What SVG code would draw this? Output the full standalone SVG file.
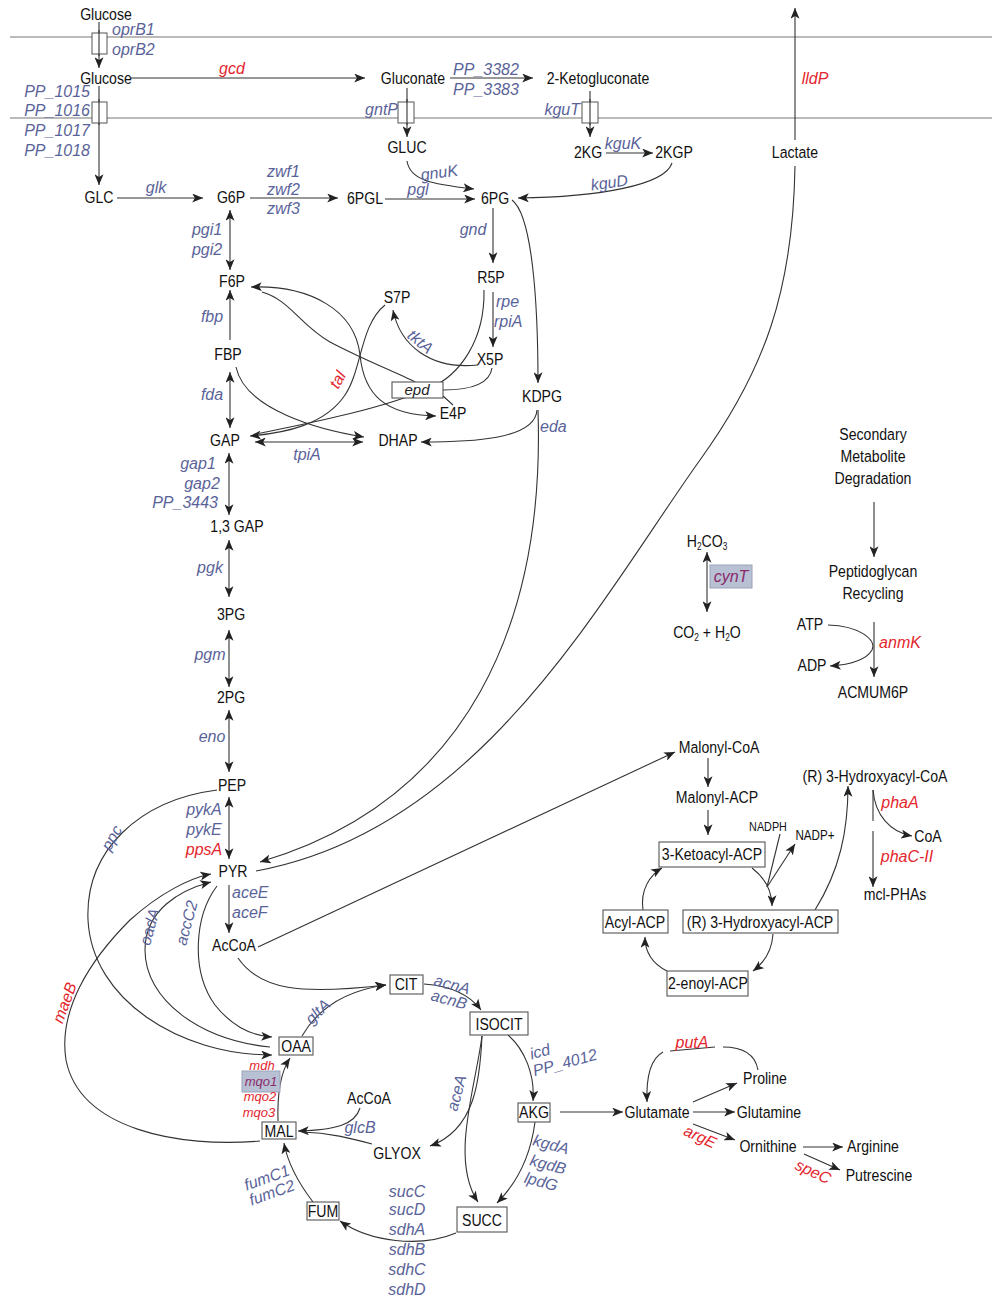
<svg xmlns="http://www.w3.org/2000/svg" width="992" height="1300" viewBox="0 0 992 1300">
<defs>
<marker id="ah" viewBox="0 0 12 10" refX="12" refY="5" markerWidth="11" markerHeight="9" orient="auto-start-reverse" markerUnits="userSpaceOnUse"><path d="M0,0 L12,5 L0,10 L3,5 z" fill="#222"/></marker>
<style>
.m{font-family:"Liberation Sans",Arial,sans-serif;font-size:17px;fill:#111;text-anchor:middle;transform-box:fill-box;transform-origin:center;transform:scaleX(0.83)}
.s{font-size:13px}
.g{font-family:"Liberation Sans",Arial,sans-serif;font-style:italic;font-size:16px;fill:#5a6399;text-anchor:middle}
.sm{font-size:13px}
.r{fill:#e3262e}
.e{text-anchor:end}
.st{text-anchor:start}
.c{fill:none;stroke:#333;stroke-width:1.1}
.a{marker-end:url(#ah)}
.b{marker-start:url(#ah);marker-end:url(#ah)}
.mem{stroke:#777;stroke-width:1.2}
.box{fill:#fff;stroke:#555;stroke-width:1.1}
.tb{fill:#fff;stroke:#555;stroke-width:1}
</style>
</defs>
<rect width="992" height="1300" fill="#fff"/>
<g id="membranes">
<line class="mem" x1="10" y1="37" x2="992" y2="37"/>
<line class="mem" x1="10" y1="118" x2="992" y2="118"/>
</g>
<g id="connectors">
<path class="c a" d="M99,22 L99,68"/>
<path class="c a" d="M99,86 L99,185"/>
<path class="c a" d="M131,78 L365,78"/>
<path class="c a" d="M450,78 L533,78"/>
<path class="c a" d="M407,88 L407,137"/>
<path class="c a" d="M590,91 L590,137"/>
<path class="c a" d="M606,153 L653,153"/>
<path class="c a" d="M672,163 C665,185 600,197 518,198"/>
<path class="c a" d="M407,161 C410,180 430,184 474,189"/>
<path class="c a" d="M795,140 L795,8"/>
<path class="c a" d="M117,198 L203,198"/>
<path class="c a" d="M250,198 L338,198"/>
<path class="c a" d="M385,199 L475,199"/>
<path class="c a" d="M493,208 L493,263"/>
<path class="c a" d="M493,292 L493,347"/>
<path class="c a" d="M512,200 C532,215 538,300 538,383"/>
<path class="c a" d="M537,410 C535,440 470,442 421,442"/>
<path class="c a" d="M538,410 C545,620 470,800 260,862"/>
<path class="c" d="M795,166 C793,290 765,370 700,460 C600,600 480,830 256,871"/>
<path class="c b" d="M230,210 L230,270"/>
<path class="c a" d="M230,340 L230,290"/>
<path class="c b" d="M230,372 L230,428"/>
<path class="c b" d="M255,442 L363,442"/>
<path class="c b" d="M229,453 L229,515"/>
<path class="c b" d="M229,540 L229,597"/>
<path class="c b" d="M229,630 L229,687"/>
<path class="c b" d="M229,710 L229,772"/>
<path class="c b" d="M229,797 L229,859"/>
<path class="c a" d="M229,885 L229,933"/>
<path class="c b" d="M251,287 C310,285 355,310 360,355 C364,395 385,415 436,416"/>
<path class="c" d="M262,292 C290,300 300,325 330,342 C360,358 395,372 415,382"/>
<path class="c a" d="M385,305 C360,325 362,370 345,395 C325,425 285,433 250,436"/>
<path class="c" d="M484,290 C485,340 460,375 430,388 C380,410 300,425 256,434"/>
<path class="c a" d="M478,365 C430,370 400,345 393,310"/>
<path class="c" d="M443,390 C475,390 490,382 492,368"/>
<path class="c" d="M443,396 L453,405"/>
<path class="c a" d="M236,367 C245,410 320,430 364,437"/>
<path class="c a" d="M217,790 C140,800 85,850 88,920 C92,1000 180,1055 272,1055"/>
<path class="c a" d="M270,1047 C200,1040 145,1000 145,950 C145,910 180,890 211,882"/>
<path class="c a" d="M217,886 C195,915 190,970 215,1005 C235,1030 255,1036 272,1037"/>
<path class="c a" d="M260,1141 C180,1148 80,1130 66,1060 C58,1010 90,960 130,920 C160,893 190,878 211,874"/>
<path class="c a" d="M258,947 L675,752"/>
<path class="c a" d="M238,958 C260,990 300,995 386,985"/>
<path class="c a" d="M302,1036 C320,1005 350,990 386,985"/>
<path class="c a" d="M424,984 C450,986 470,995 481,1010"/>
<path class="c a" d="M508,1035 C525,1050 535,1075 533,1101"/>
<path class="c a" d="M482,1036 C480,1080 475,1130 430,1146"/>
<path class="c a" d="M482,1036 C475,1090 450,1160 478,1202"/>
<path class="c a" d="M535,1122 C530,1160 515,1185 497,1203"/>
<path class="c a" d="M456,1233 C420,1248 370,1242 340,1221"/>
<path class="c a" d="M313,1202 C300,1185 288,1165 284,1143"/>
<path class="c a" d="M278,1121 C277,1090 282,1070 290,1058"/>
<path class="c a" d="M360,1108 C355,1125 335,1130 298,1131"/>
<path class="c" d="M372,1144 C350,1138 330,1133 302,1132"/>
<path class="c a" d="M560,1112 L623,1112"/>
<path class="c a" d="M693,1102 L737,1083"/>
<path class="c a" d="M693,1112 L735,1112"/>
<path class="c a" d="M693,1124 L735,1140"/>
<path class="c a" d="M803,1147 L843,1147"/>
<path class="c a" d="M804,1154 L840,1170"/>
<path class="c" d="M758,1070 C755,1053 742,1047 723,1047"/>
<path class="c" d="M670,1051 L715,1047"/>
<path class="c a" d="M663,1052 C652,1058 646,1075 647,1102"/>
<path class="c b" d="M707,552 L707,612"/>
<path class="c a" d="M874,502 L874,557"/>
<path class="c a" d="M874,622 L874,677"/>
<path class="c a" d="M828,625 C860,626 877,640 872,650 C865,662 845,665 830,666"/>
<path class="c a" d="M708,758 L708,787"/>
<path class="c a" d="M708,810 L708,835"/>
<path class="c a" d="M752,868 C765,878 772,890 772,906"/>
<path class="c" d="M780,834 L767,887"/>
<path class="c a" d="M767,887 L795,844"/>
<path class="c a" d="M815,910 C840,870 848,830 848,786"/>
<path class="c a" d="M773,934 C772,950 765,962 753,971"/>
<path class="c a" d="M667,971 C655,965 645,955 645,937"/>
<path class="c a" d="M643,910 C640,890 650,875 662,868"/>
<path class="c a" d="M873,790 C875,815 890,832 912,836"/>
<path class="c" d="M873,790 L873,821"/>
<path class="c a" d="M873,831 L873,887"/>
</g>
<g id="transporters">
<rect class="tb" x="92" y="33" width="15" height="21"/>
<rect class="tb" x="92" y="102" width="15" height="21"/>
<rect class="tb" x="398" y="102" width="16" height="21"/>
<rect class="tb" x="582" y="102" width="16" height="21"/>
<line class="c" x1="99" y1="30" x2="99" y2="56"/>
<line class="c" x1="99" y1="99" x2="99" y2="125"/>
<line class="c" x1="407" y1="99" x2="407" y2="125"/>
<line class="c" x1="590" y1="99" x2="590" y2="125"/>
</g>
<g id="Glucose_out"><text class="m" x="106" y="20">Glucose</text></g>
<g id="Glucose_peri"><text class="m" x="106" y="84">Glucose</text></g>
<g id="Gluconate"><text class="m" x="413" y="84">Gluconate</text></g>
<g id="Ketogluconate"><text class="m" x="598" y="84">2-Ketogluconate</text></g>
<g id="GLUC"><text class="m" x="407" y="153">GLUC</text></g>
<g id="KG2"><text class="m" x="588" y="158">2KG</text></g>
<g id="KGP2"><text class="m" x="674" y="158">2KGP</text></g>
<g id="Lactate"><text class="m" x="795" y="158">Lactate</text></g>
<g id="GLC"><text class="m" x="99" y="203">GLC</text></g>
<g id="G6P"><text class="m" x="231" y="203">G6P</text></g>
<g id="PGL6"><text class="m" x="365" y="204">6PGL</text></g>
<g id="PG6"><text class="m" x="495" y="204">6PG</text></g>
<g id="R5P"><text class="m" x="491" y="283">R5P</text></g>
<g id="S7P"><text class="m" x="397" y="303">S7P</text></g>
<g id="X5P"><text class="m" x="490" y="365">X5P</text></g>
<g id="KDPG"><text class="m" x="542" y="402">KDPG</text></g>
<g id="E4P"><text class="m" x="453" y="419">E4P</text></g>
<g id="epd"><rect class="box" x="392" y="382" width="51" height="16"/><text class="g" x="417" y="395" style="fill:#222;font-size:15px">epd</text></g>
<g id="F6P"><text class="m" x="232" y="287">F6P</text></g>
<g id="FBP"><text class="m" x="228" y="360">FBP</text></g>
<g id="GAP"><text class="m" x="225" y="446">GAP</text></g>
<g id="DHAP"><text class="m" x="398" y="446">DHAP</text></g>
<g id="GAP13"><text class="m" x="237" y="532">1,3 GAP</text></g>
<g id="PG3"><text class="m" x="231" y="620">3PG</text></g>
<g id="PG2"><text class="m" x="231" y="703">2PG</text></g>
<g id="PEP"><text class="m" x="232" y="791">PEP</text></g>
<g id="PYR"><text class="m" x="233" y="877">PYR</text></g>
<g id="AcCoA"><text class="m" x="234" y="951">AcCoA</text></g>
<g id="OAA"><rect class="box" x="279" y="1037" width="34" height="18"/><text class="m" x="296" y="1052">OAA</text></g>
<g id="CIT"><rect class="box" x="390" y="975" width="33" height="19"/><text class="m" x="406" y="990">CIT</text></g>
<g id="ISOCIT"><rect class="box" x="470" y="1012" width="58" height="23"/><text class="m" x="499" y="1030">ISOCIT</text></g>
<g id="AKG"><rect class="box" x="518" y="1103" width="32" height="19"/><text class="m" x="534" y="1118">AKG</text></g>
<g id="SUCC"><rect class="box" x="457" y="1207" width="50" height="25"/><text class="m" x="482" y="1226">SUCC</text></g>
<g id="FUM"><rect class="box" x="307" y="1202" width="32" height="18"/><text class="m" x="323" y="1217">FUM</text></g>
<g id="MAL"><rect class="box" x="262" y="1122" width="34" height="17"/><text class="m" x="279" y="1137">MAL</text></g>
<g id="AcCoA2"><text class="m" x="369" y="1104">AcCoA</text></g>
<g id="GLYOX"><text class="m" x="397" y="1159">GLYOX</text></g>
<g id="Glutamate"><text class="m" x="657" y="1118">Glutamate</text></g>
<g id="Proline"><text class="m" x="765" y="1084">Proline</text></g>
<g id="Glutamine"><text class="m" x="769" y="1118">Glutamine</text></g>
<g id="Ornithine"><text class="m" x="768" y="1152">Ornithine</text></g>
<g id="Arginine"><text class="m" x="873" y="1152">Arginine</text></g>
<g id="Putrescine"><text class="m" x="879" y="1181">Putrescine</text></g>
<g id="H2CO3"><text class="m" x="707" y="547">H<tspan font-size="10" dy="3">2</tspan><tspan dy="-3">CO</tspan><tspan font-size="10" dy="3">3</tspan></text></g>
<g id="CO2H2O"><text class="m" x="707" y="638">CO<tspan font-size="10" dy="3">2</tspan><tspan dy="-3"> + H</tspan><tspan font-size="10" dy="3">2</tspan><tspan dy="-3">O</tspan></text></g>
<g id="cynT"><rect x="710" y="565" width="42" height="23" fill="#b8c0d4" stroke="#9aa3b8" stroke-width="1"/><text class="g" x="731" y="582" style="fill:#8a2b6a">cynT</text></g>
<g id="Secondary"><text class="m" x="873" y="440">Secondary</text><text class="m" x="873" y="462">Metabolite</text><text class="m" x="873" y="484">Degradation</text></g>
<g id="Peptidoglycan"><text class="m" x="873" y="577">Peptidoglycan</text><text class="m" x="873" y="599">Recycling</text></g>
<g id="ATP"><text class="m" x="810" y="630">ATP</text></g>
<g id="ADP"><text class="m" x="812" y="671">ADP</text></g>
<g id="ACMUM6P"><text class="m" x="873" y="698">ACMUM6P</text></g>
<g id="MalonylCoA"><text class="m" x="719" y="753">Malonyl-CoA</text></g>
<g id="MalonylACP"><text class="m" x="717" y="803">Malonyl-ACP</text></g>
<g id="Ketoacyl"><rect class="box" x="659" y="842" width="106" height="25"/><text class="m" x="712" y="860">3-Ketoacyl-ACP</text></g>
<g id="NADPH"><text class="m s" x="768" y="831">NADPH</text></g>
<g id="NADP"><text class="m" x="815" y="840" style="font-size:14px">NADP+</text></g>
<g id="HACoA"><text class="m" x="875" y="782">(R) 3-Hydroxyacyl-CoA</text></g>
<g id="CoA"><text class="m" x="928" y="842">CoA</text></g>
<g id="mclPHA"><text class="m" x="895" y="900">mcl-PHAs</text></g>
<g id="AcylACP"><rect class="box" x="603" y="910" width="65" height="23"/><text class="m" x="635" y="928">Acyl-ACP</text></g>
<g id="HAACP"><rect class="box" x="683" y="910" width="155" height="23"/><text class="m" x="760" y="928">(R) 3-Hydroxyacyl-ACP</text></g>
<g id="enoyl"><rect class="box" x="667" y="971" width="81" height="25"/><text class="m" x="708" y="989">2-enoyl-ACP</text></g>
<g id="genes">
<text class="g st" x="112" y="35">oprB1</text>
<text class="g st" x="112" y="55">oprB2</text>
<text class="g r" x="232" y="74">gcd</text>
<text class="g e" x="90" y="97">PP_1015</text>
<text class="g e" x="90" y="116">PP_1016</text>
<text class="g e" x="90" y="136">PP_1017</text>
<text class="g e" x="90" y="156">PP_1018</text>
<text class="g" x="486" y="75">PP_3382</text>
<text class="g" x="486" y="95">PP_3383</text>
<text class="g e" x="398" y="115">gntP</text>
<text class="g e" x="580" y="115">kguT</text>
<text class="g" x="623" y="149">kguK</text>
<text class="g" x="610" y="188" transform="rotate(-8 610 188)">kguD</text>
<text class="g" x="440" y="178" transform="rotate(-8 440 178)">gnuK</text>
<text class="g" x="418" y="195">pgl</text>
<text class="g r" x="815" y="84">lldP</text>
<text class="g" x="156" y="193">glk</text>
<text class="g st" x="267" y="177">zwf1</text>
<text class="g st" x="267" y="195">zwf2</text>
<text class="g st" x="267" y="214">zwf3</text>
<text class="g" x="207" y="235">pgi1</text>
<text class="g" x="207" y="255">pgi2</text>
<text class="g" x="212" y="322">fbp</text>
<text class="g" x="212" y="400">fda</text>
<text class="g" x="307" y="460">tpiA</text>
<text class="g" x="198" y="469">gap1</text>
<text class="g" x="202" y="489">gap2</text>
<text class="g e" x="218" y="508">PP_3443</text>
<text class="g" x="210" y="573">pgk</text>
<text class="g" x="210" y="660">pgm</text>
<text class="g" x="212" y="742">eno</text>
<text class="g" x="204" y="815">pykA</text>
<text class="g" x="204" y="835">pykE</text>
<text class="g r" x="204" y="855">ppsA</text>
<text class="g st" x="232" y="898">aceE</text>
<text class="g st" x="232" y="918">aceF</text>
<text class="g" x="473" y="235">gnd</text>
<text class="g st" x="496" y="307">rpe</text>
<text class="g st" x="494" y="327">rpiA</text>
<text class="g" x="420" y="347" transform="rotate(40 420 342)">tktA</text>
<text class="g r" x="338" y="385" transform="rotate(-60 338 380)">tal</text>
<text class="g st" x="540" y="432">eda</text>
<text class="g" x="112" y="843" transform="rotate(-60 112 838)">ppc</text>
<text class="g" x="150" y="932" transform="rotate(-75 150 927)">oadA</text>
<text class="g" x="187" y="928" transform="rotate(-75 187 923)">accC2</text>
<text class="g r" x="65" y="1008" transform="rotate(-70 65 1003)">maeB</text>
<text class="g" x="318" y="1017" transform="rotate(-45 318 1012)">gltA</text>
<text class="g" x="452" y="990" transform="rotate(15 452 985)">acnA</text>
<text class="g" x="449" y="1005" transform="rotate(15 449 1000)">acnB</text>
<text class="g" x="540" y="1057" transform="rotate(-15 540 1052)">icd</text>
<text class="g" x="565" y="1068" transform="rotate(-15 565 1063)">PP_4012</text>
<text class="g" x="457" y="1098" transform="rotate(-75 457 1093)">aceA</text>
<text class="g" x="360" y="1133">glcB</text>
<text class="g" x="551" y="1150" transform="rotate(15 551 1145)">kgdA</text>
<text class="g" x="548" y="1170" transform="rotate(15 548 1165)">kgdB</text>
<text class="g" x="541" y="1187" transform="rotate(15 541 1182)">lpdG</text>
<text class="g" x="407" y="1197">sucC</text>
<text class="g" x="407" y="1215">sucD</text>
<text class="g" x="407" y="1235">sdhA</text>
<text class="g" x="407" y="1255">sdhB</text>
<text class="g" x="407" y="1275">sdhC</text>
<text class="g" x="407" y="1295">sdhD</text>
<text class="g" x="267" y="1183" transform="rotate(-20 267 1178)">fumC1</text>
<text class="g" x="272" y="1198" transform="rotate(-20 272 1193)">fumC2</text>
<text class="g r sm" x="262" y="1070">mdh</text>
<rect x="242" y="1071" width="38" height="21" fill="#b8c0d4" stroke="#9aa3b8" stroke-width="1"/>
<text class="g sm" x="261" y="1086" style="fill:#8a2b6a">mqo1</text>
<text class="g r sm" x="260" y="1101">mqo2</text>
<text class="g r sm" x="259" y="1117">mqo3</text>
<text class="g r" x="692" y="1048">putA</text>
<text class="g r" x="700" y="1142" transform="rotate(25 700 1137)">argE</text>
<text class="g r" x="813" y="1177" transform="rotate(25 813 1172)">speC</text>
<text class="g r" x="900" y="648">anmK</text>
<text class="g r" x="900" y="808">phaA</text>
<text class="g r" x="907" y="862">phaC-II</text>
</g>
</svg>
